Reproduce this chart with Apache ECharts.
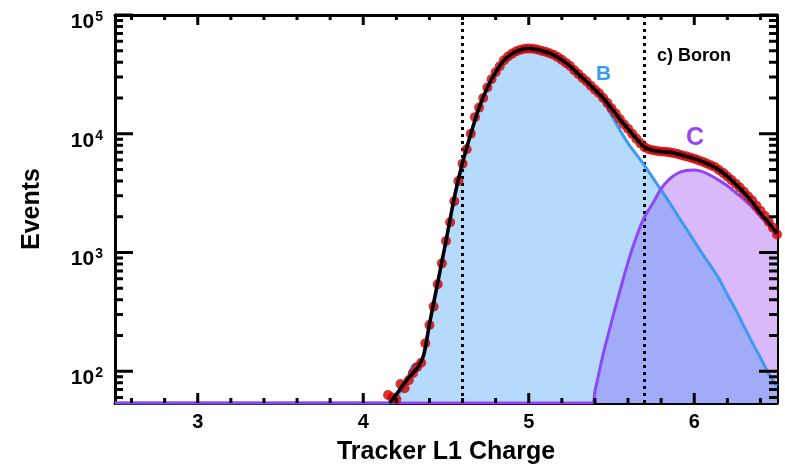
<!DOCTYPE html>
<html>
<head>
<meta charset="utf-8">
<script src="https://cdn.jsdelivr.net/npm/echarts@6/dist/echarts.min.js"></script>
<style>
html, body { margin: 0; padding: 0; background: #fff; }
#chart { width: 785px; height: 470px; }
</style>
</head>
<body>
<div id="chart"></div>
<script>
// measured points (red dots)
const pointCharge = [4.150, 4.175, 4.200, 4.225, 4.250, 4.275, 4.300, 4.325, 4.350, 4.375,
    4.400, 4.425, 4.450, 4.475, 4.500, 4.525, 4.550, 4.575, 4.600, 4.625,
    4.650, 4.675, 4.700, 4.725, 4.750, 4.775, 4.800, 4.825, 4.850, 4.875,
    4.900, 4.925, 4.950, 4.975, 5.000, 5.025, 5.050, 5.075, 5.100, 5.125,
    5.150, 5.175, 5.200, 5.225, 5.250, 5.275, 5.300, 5.325, 5.350, 5.375,
    5.400, 5.425, 5.450, 5.475, 5.500, 5.525, 5.550, 5.575, 5.600, 5.625,
    5.650, 5.675, 5.700, 5.725, 5.750, 5.775, 5.800, 5.825, 5.850, 5.875,
    5.900, 5.925, 5.950, 5.975, 6.000, 6.025, 6.050, 6.075, 6.100, 6.125,
    6.150, 6.175, 6.200, 6.225, 6.250, 6.275, 6.300, 6.325, 6.350, 6.375,
    6.400, 6.425, 6.450, 6.475, 6.500];
const pointEvents = [63, 60, 58, 78, 72, 84, 96, 108, 118, 172,
    245, 350, 540, 810, 1250, 1800, 2700, 4000, 5600, 7400,
    10000, 13800, 16600, 20000, 24500, 28800, 33000, 37000, 41500, 44700,
    47300, 49500, 51000, 51900, 52100, 52000, 51300, 50100, 49000, 47700,
    46200, 44200, 41900, 39500, 37200, 34300, 31800, 29500, 27500, 25400,
    23500, 21900, 20000, 18200, 16400, 14800, 13300, 12000, 11000, 10000,
    9100, 8300, 7700, 7400, 7250, 7150, 7080, 7050, 6970, 6870,
    6760, 6600, 6450, 6300, 6170, 5980, 5820, 5620, 5430, 5250,
    4950, 4680, 4370, 4070, 3800, 3520, 3250, 2980, 2740, 2480,
    2250, 2040, 1820, 1620, 1420];

// total fit (black line)
const fitCharge = [4.16, 4.20, 4.235, 4.28, 4.326, 4.366, 4.40, 4.45, 4.50, 4.55,
    4.60, 4.65, 4.70, 4.75, 4.80, 4.85, 4.90, 4.95, 5.00, 5.05,
    5.10, 5.15, 5.20, 5.25, 5.30, 5.35, 5.40, 5.45, 5.50, 5.55,
    5.60, 5.65, 5.70, 5.75, 5.80, 5.85, 5.90, 5.95, 6.00, 6.05,
    6.10, 6.15, 6.20, 6.25, 6.30, 6.35, 6.40, 6.45, 6.50];
const fitEvents = [54, 64, 75, 90, 106, 138, 250, 560, 1250, 2900,
    5700, 10000, 16600, 24500, 33000, 41500, 47300, 51000, 52100, 51300,
    49000, 46200, 41900, 37200, 31800, 27500, 23500, 20000, 16400, 13300,
    11000, 9100, 7700, 7250, 7080, 6970, 6760, 6450, 6170, 5820,
    5430, 4950, 4370, 3760, 3200, 2660, 2140, 1780, 1450];

// boron template (B)
const boronCharge = [2.50, 4.15, 4.20, 4.25, 4.30, 4.35, 4.40, 4.45, 4.50, 4.55,
    4.60, 4.65, 4.70, 4.75, 4.80, 4.85, 4.90, 4.95, 5.00, 5.05,
    5.10, 5.15, 5.20, 5.25, 5.30, 5.35, 5.40, 5.45, 5.50, 5.55,
    5.60, 5.65, 5.70, 5.75, 5.80, 5.85, 5.90, 5.95, 6.00, 6.05,
    6.10, 6.15, 6.20, 6.25, 6.30, 6.35, 6.40, 6.45, 6.50];
const boronEvents = [54, 54, 62, 74, 112, 120, 245, 540, 1250, 2800,
    5700, 10000, 16600, 24500, 33000, 41500, 47300, 51000, 52100, 51300,
    49000, 46200, 41900, 37200, 31500, 27000, 23000, 18800, 14300, 10800,
    8300, 6700, 5400, 4250, 3350, 2650, 2050, 1600, 1250, 970,
    770, 600, 440, 330, 240, 175, 130, 95, 75];

// carbon template (C)
const carbonCharge = [2.50, 5.38, 5.40, 5.45, 5.50, 5.55, 5.60, 5.65, 5.70, 5.75,
    5.80, 5.85, 5.90, 5.95, 6.00, 6.05, 6.10, 6.15, 6.20, 6.25,
    6.30, 6.35, 6.40, 6.45, 6.50];
const carbonEvents = [54, 54, 68, 140, 260, 470, 830, 1350, 2000, 2600,
    3450, 4150, 4650, 4900, 4950, 4800, 4450, 4050, 3650, 3200,
    2800, 2400, 2000, 1700, 1400];

const cutCharge = [4.6, 5.7];

const xMajor = [3, 4, 5, 6];
const xMinor = [2.6, 2.8, 3.2, 3.4, 3.6, 3.8, 4.2, 4.4, 4.6, 4.8, 5.2, 5.4, 5.6, 5.8, 6.2, 6.4];
const yMajor = [100, 1000, 10000, 100000];
const yMinor = [60, 70, 80, 90, 200, 300, 400, 500, 600, 700, 800, 900,
    2000, 3000, 4000, 5000, 6000, 7000, 8000, 9000,
    20000, 30000, 40000, 50000, 60000, 70000, 80000, 90000];

const X_MIN = 2.5, X_MAX = 6.5, Y_MIN = 54, Y_MAX = 100000;
const GRID = { left: 115, right: 8, top: 15, bottom: 63 };
const FONT = '"Liberation Sans", Arial, Helvetica, sans-serif';
const zip = (xs, ys) => xs.map((x, i) => [x, ys[i]]);

const boronData = zip(boronCharge, boronEvents);
const carbonData = zip(carbonCharge, carbonEvents);
// region where both templates overlap
const overlapData = carbonData.map(([x, y]) => {
    const j = boronCharge.indexOf(x);
    return [x, j >= 0 ? Math.min(y, boronEvents[j]) : y];
});

// inward tick marks on all four sides: short segments in axis units, '-' breaks the line
const xPerPx = (X_MAX - X_MIN) / (785 - GRID.left - GRID.right);
const decPerPx = Math.log10(Y_MAX / Y_MIN) / (470 - GRID.top - GRID.bottom);
const tickPath = [];
function xTick(v, len) {
    const f = Math.pow(10, len * decPerPx);
    tickPath.push([v, Y_MIN], [v, Y_MIN * f], [v, '-']);
    tickPath.push([v, Y_MAX], [v, Y_MAX / f], [v, '-']);
}
function yTick(v, len) {
    tickPath.push([X_MIN, v], [X_MIN + len * xPerPx, v], [X_MIN, '-']);
    tickPath.push([X_MAX, v], [X_MAX - len * xPerPx, v], [X_MAX, '-']);
}
xMajor.forEach(v => xTick(v, 10));
xMinor.forEach(v => xTick(v, 5));
yMajor.forEach(v => yTick(v, 18));
yMinor.forEach(v => yTick(v, 8));

const axisLine = { show: true, lineStyle: { color: '#000', width: 3 } };

const chart = echarts.init(document.getElementById('chart'), null, { renderer: 'canvas' });
chart.setOption({
    animation: false,
    backgroundColor: '#fff',
    grid: Object.assign({ containLabel: false }, GRID),
    xAxis: [{
        type: 'value', min: X_MIN, max: X_MAX, position: 'bottom',
        axisLine: axisLine, axisTick: { show: false }, splitLine: { show: false },
        axisLabel: { show: true, customValues: xMajor, margin: 9,
            color: '#000', fontFamily: FONT, fontWeight: 'bold', fontSize: 20 },
        name: 'Tracker L1 Charge', nameLocation: 'middle', nameGap: 37,
        nameTextStyle: { color: '#000', fontFamily: FONT, fontWeight: 'bold', fontSize: 25 }
    }, {
        type: 'value', min: X_MIN, max: X_MAX, position: 'top',
        axisLine: axisLine, axisTick: { show: false }, splitLine: { show: false },
        axisLabel: { show: false }
    }],
    yAxis: [{
        type: 'log', logBase: 10, min: Y_MIN, max: Y_MAX, position: 'left',
        axisLine: axisLine, axisTick: { show: false }, splitLine: { show: false },
        axisLabel: { show: true, customValues: yMajor, margin: 12, padding: [14, 0, 0, 0],
            formatter: v => '{b|10}{s|' + Math.round(Math.log10(v)) + '}',
            rich: {
                b: { color: '#000', fontFamily: FONT, fontWeight: 'bold', fontSize: 21 },
                s: { color: '#000', fontFamily: FONT, fontWeight: 'bold', fontSize: 14,
                     verticalAlign: 'top', padding: [0, 0, 10, 1] }
            } },
        name: 'Events', nameLocation: 'middle', nameGap: 70,
        nameTextStyle: { color: '#000', fontFamily: FONT, fontWeight: 'bold', fontSize: 25 }
    }, {
        type: 'log', logBase: 10, min: Y_MIN, max: Y_MAX, position: 'right',
        axisLine: axisLine, axisTick: { show: false }, splitLine: { show: false },
        axisLabel: { show: false }
    }],
    graphic: [
        { type: 'text', left: 657, top: 47, z: 100,
          style: { text: 'c) Boron', fill: '#000', font: 'bold 18px ' + FONT } },
        { type: 'text', left: 596, top: 64, z: 100,
          style: { text: 'B', fill: '#3a9bf0', font: 'bold 21px ' + FONT } },
        { type: 'text', left: 686, top: 126, z: 100,
          style: { text: 'C', fill: '#9a45f6', font: 'bold 25px ' + FONT } }
    ],
    series: [
        { name: 'B fill', type: 'line', z: 1, data: boronData, smooth: 0.25, symbol: 'none',
          lineStyle: { width: 0 }, areaStyle: { color: '#b6dafb', opacity: 1, origin: 'start' } },
        { name: 'C fill', type: 'line', z: 2, data: carbonData, smooth: 0.25, symbol: 'none',
          lineStyle: { width: 0 }, areaStyle: { color: '#dab9fb', opacity: 1, origin: 'start' } },
        { name: 'overlap', type: 'line', z: 3, data: overlapData, smooth: 0.25, symbol: 'none',
          lineStyle: { width: 0 }, areaStyle: { color: '#a1abf8', opacity: 1, origin: 'start' },
          markLine: { silent: true, animation: false, symbol: ['none', 'none'], label: { show: false },
              lineStyle: { color: '#000', type: [3, 4], width: 3 },
              data: cutCharge.map(v => ({ xAxis: v })) } },
        { name: 'B', type: 'line', z: 5, data: boronData, smooth: 0.25, symbol: 'none',
          lineStyle: { color: '#3a9bf0', width: 3 } },
        { name: 'C', type: 'line', z: 6, data: carbonData, smooth: 0.25, symbol: 'none',
          lineStyle: { color: '#8f47f6', width: 3 } },
        { name: 'Data', type: 'scatter', z: 7, data: zip(pointCharge, pointEvents),
          symbol: 'circle', symbolSize: 10, itemStyle: { color: '#cc0000' } },
        { name: 'Fit', type: 'line', z: 8, data: zip(fitCharge, fitEvents), smooth: 0.25, symbol: 'none',
          lineStyle: { color: '#000', width: 3.5 } },
        { name: 'ticks', type: 'line', z: 20, silent: true, clip: false, data: tickPath,
          connectNulls: false, symbol: 'none', smooth: false,
          lineStyle: { color: '#000', width: 3, cap: 'butt' } }
    ]
});
</script>
</body>
</html>
